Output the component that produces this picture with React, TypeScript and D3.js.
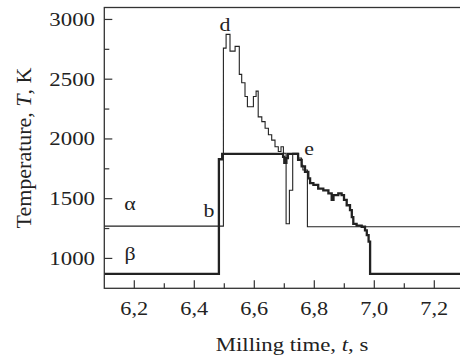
import * as d3 from "d3";

const width = 460;
const height = 356;

// thin curve (alpha)
const alphaTime = [6.10, 6.497, 6.506, 6.519, 6.536, 6.550, 6.558, 6.569, 6.577, 6.597, 6.606, 6.613, 6.625, 6.636, 6.647, 6.658, 6.669, 6.680, 6.689, 6.697, 6.706, 6.717, 6.728, 6.746, 6.757, 6.762, 6.777, 7.30];
const alphaTemp = [1270, 2760, 2875, 2735, 2775, 2540, 2470, 2355, 2270, 2355, 2400, 2185, 2145, 2090, 2035, 1990, 1935, 1895, 1935, 1880, 1290, 1570, 1880, 1840, 1780, 1740, 1265, 1265];

// thick curve (beta)
const betaTime = [6.10, 6.482, 6.493, 6.696, 6.700, 6.707, 6.712, 6.746, 6.758, 6.769, 6.780, 6.786, 6.797, 6.813, 6.830, 6.847, 6.858, 6.864, 6.880, 6.891, 6.899, 6.908, 6.919, 6.925, 6.930, 6.941, 6.958, 6.969, 6.975, 6.981, 6.986, 7.30];
const betaTemp = [870, 1830, 1875, 1850, 1800, 1840, 1875, 1825, 1770, 1725, 1670, 1630, 1615, 1585, 1570, 1545, 1490, 1530, 1545, 1530, 1490, 1445, 1405, 1345, 1290, 1275, 1265, 1235, 1195, 1140, 870, 870];

const xMajor = [6.2, 6.4, 6.6, 6.8, 7.0, 7.2];
const xMinor = [6.3, 6.5, 6.7, 6.9, 7.1];
const yMajor = [1000, 1500, 2000, 2500, 3000];
const yMinor = [1250, 1750, 2250, 2750];

const x = d3.scaleLinear().domain([6.1, 7.3]).range([104.3, 464.3]);
const y = d3.scaleLinear().domain([750, 3100]).range([288.3, 7.5]);

const fmt = (v: number) => d3.format(".1f")(v).replace(".", ",");

const font = "'Liberation Serif', 'Times New Roman', serif";
const ink = "#222";

function Txt({ x: tx, y: ty, sx = 1.2, size = 18, anchor = "middle", rotate = 0, children }: any) {
  return (
    <text
      transform={`translate(${tx},${ty}) rotate(${rotate}) scale(${sx},1)`}
      textAnchor={anchor}
      fontSize={size}
      fontFamily={font}
      fill={ink}
    >
      {children}
    </text>
  );
}

export default function App() {
  const line = d3.line<[number, number]>()
    .x((d) => x(d[0]))
    .y((d) => y(d[1]))
    .curve(d3.curveStepAfter);

  const alpha = alphaTime.map((t, i) => [t, alphaTemp[i]] as [number, number]);
  const beta = betaTime.map((t, i) => [t, betaTemp[i]] as [number, number]);

  const [x0, x1] = x.range();
  const [y0, y1] = y.range();

  return (
    <svg
      width={width}
      height={height}
      style={{ position: "absolute", left: 0, top: 0, background: "#fff" }}
    >
      {/* data */}
      <path d={line(alpha) ?? ""} fill="none" stroke={ink} strokeWidth={1.1} />
      <path d={line(beta) ?? ""} fill="none" stroke={ink} strokeWidth={2.3} />

      {/* frame */}
      <rect x={x0} y={y1} width={x1 - x0} height={y0 - y1} fill="none" stroke="#333" strokeWidth={1.3} />

      {/* x ticks */}
      {xMajor.map((t) => (
        <g key={"xm" + t}>
          <line x1={x(t)} x2={x(t)} y1={y0} y2={y0 - 8} stroke="#333" strokeWidth={1.2} />
          <Txt x={x(t)} y={315} sx={1.24} size={18}>{fmt(t)}</Txt>
        </g>
      ))}
      {xMinor.map((t) => (
        <line key={"xn" + t} x1={x(t)} x2={x(t)} y1={y0} y2={y0 - 5} stroke="#333" strokeWidth={1.2} />
      ))}

      {/* y ticks */}
      {yMajor.map((v) => (
        <g key={"ym" + v}>
          <line x1={x0} x2={x0 + 8} y1={y(v)} y2={y(v)} stroke="#333" strokeWidth={1.2} />
          <Txt x={95} y={y(v) + 6.5} sx={1.27} size={18} anchor="end">{v}</Txt>
        </g>
      ))}
      {yMinor.map((v) => (
        <line key={"yn" + v} x1={x0} x2={x0 + 5} y1={y(v)} y2={y(v)} stroke="#333" strokeWidth={1.2} />
      ))}

      {/* axis titles */}
      <Txt x={292} y={351} sx={1.2} size={19}>
        Milling time, <tspan fontStyle="italic">t</tspan>, s
      </Txt>
      <Txt x={31} y={148} sx={1.1} size={20} rotate={-90}>
        Temperature, <tspan fontStyle="italic">T</tspan>, K
      </Txt>

      {/* annotations */}
      <Txt x={225} y={31} sx={1.15} size={19}>d</Txt>
      <Txt x={309} y={155} sx={1.15} size={19}>e</Txt>
      <Txt x={209} y={217} sx={1.15} size={19}>b</Txt>
      <Txt x={130} y={210} sx={1.15} size={19}>α</Txt>
      <Txt x={130} y={260} sx={1.15} size={19}>β</Txt>
    </svg>
  );
}
